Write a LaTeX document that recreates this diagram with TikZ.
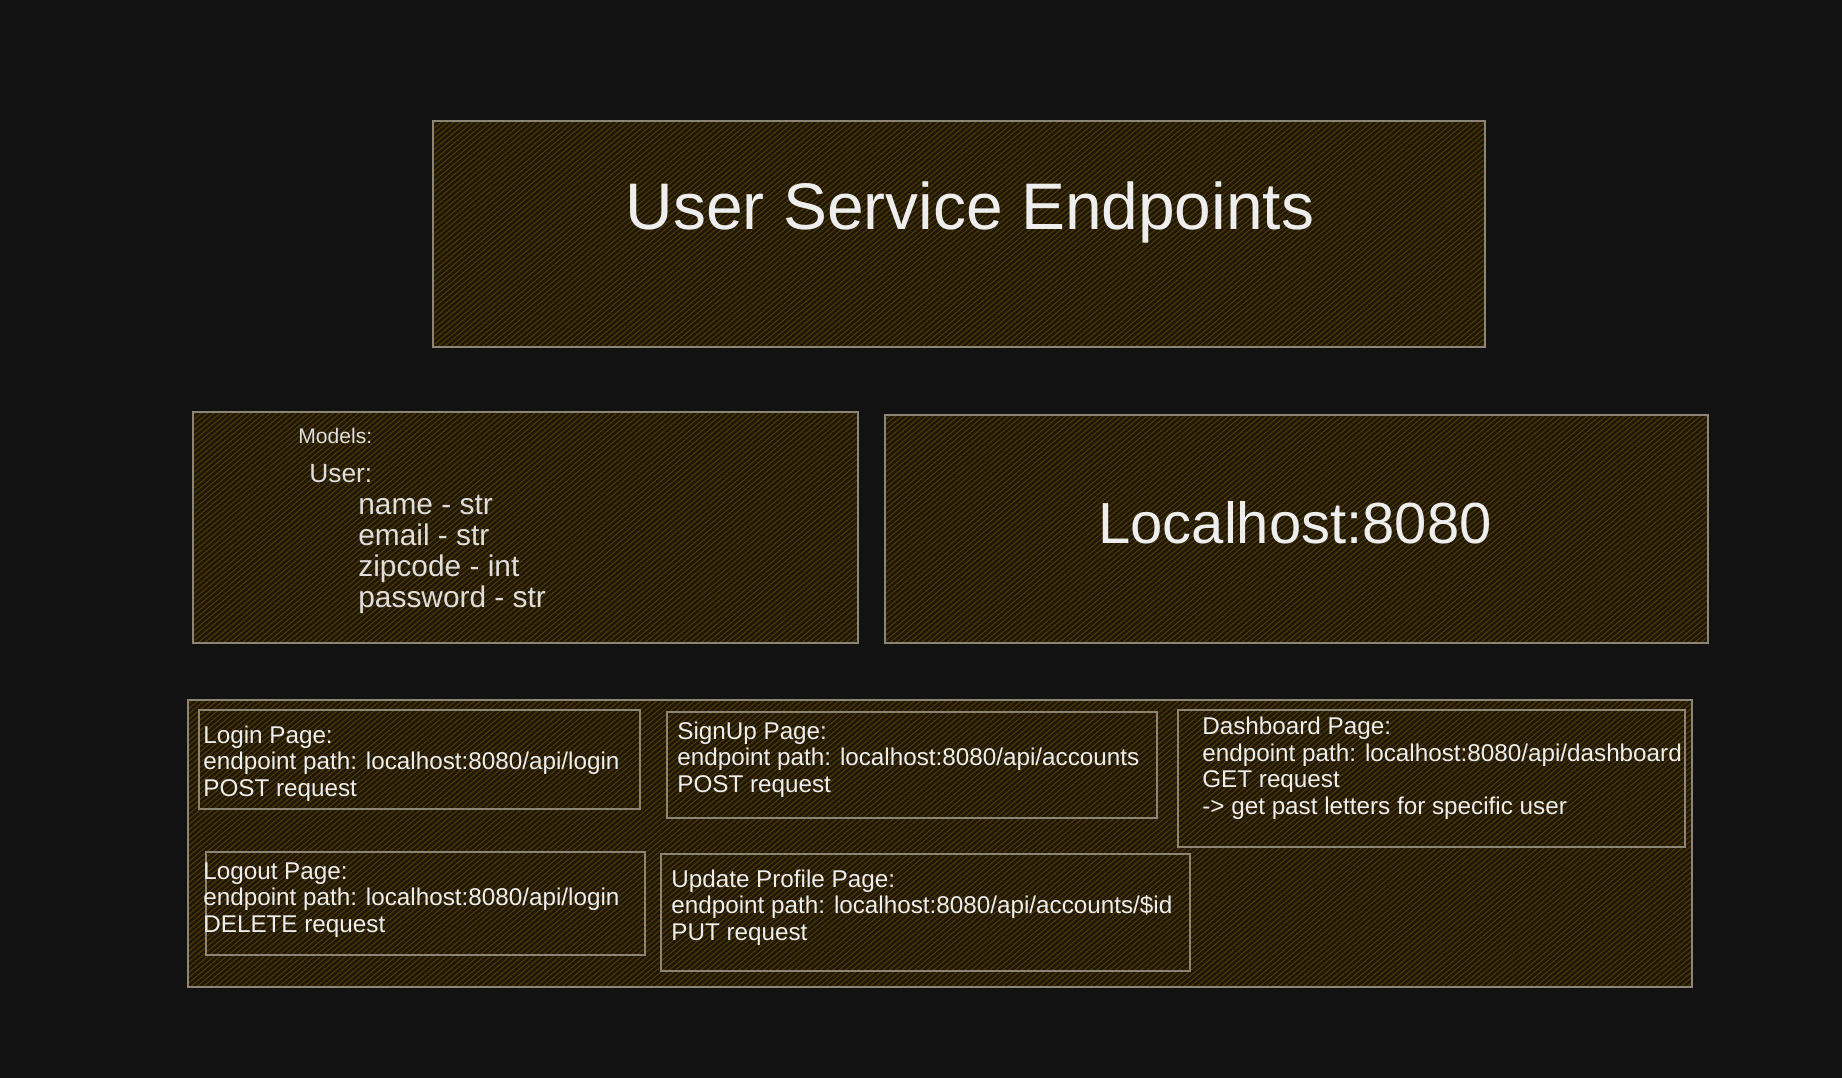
\documentclass[tikz,border=0pt]{standalone}
\usepackage{fontspec}
\setmainfont{Liberation Sans}
\usetikzlibrary{patterns.meta}

\definecolor{canvas}{HTML}{121212}
\definecolor{boxbg}{HTML}{1E1806}
\definecolor{hatch}{HTML}{54390A}
\definecolor{edge}{HTML}{8C8576}
\definecolor{ink}{HTML}{EEEEEE}

\begin{document}
\begin{tikzpicture}[
        x=0.02cm, y=-0.02cm,
        panel/.style={
            draw=edge,
            line width=1.1pt,
            preaction={fill=boxbg},
            pattern={Lines[angle=40,distance=2.3pt,line width=0.6pt]},
            pattern color=hatch
        },
        pagebox/.style={draw=edge, line width=0.9pt},
        page/.style={
            anchor=base west,
            inner sep=0pt,
            align=left,
            text=ink,
            font=\fontsize{13.8}{15}\selectfont
        },
        field/.style={
            anchor=base west,
            inner sep=0pt,
            text=ink!85!edge,
            font=\fontsize{17}{18}\selectfont
        }
    ]

    % canvas
    \fill[canvas] (0,0) rectangle (1842,1078);
    \useasboundingbox (0,0) rectangle (1842,1078);

    % title
    \draw[panel] (433,121) rectangle (1485,347);
    \node[anchor=base, text=ink, font=\fontsize{37.5}{40}\selectfont] (titel) at (970,229) {User Service Endpoints};

    % models
    \draw[panel] (193,412) rectangle (858,643);
    \node[field, font=\fontsize{12}{14}\selectfont] (models) at (298,443) {Models:};
    \node[field, font=\fontsize{15}{16}\selectfont] (user) at (309,482) {User:};
    \node[field] (fname) at (358,514) {name - str};
    \node[field] (femail) at (358,545) {email - str};
    \node[field] (fzip) at (358,576) {zipcode - int};
    \node[field] (fpass) at (358,607) {password - str};

    % host
    \draw[panel] (885,415) rectangle (1708,643);
    \node[anchor=base, text=ink, font=\fontsize{33}{36}\selectfont] (host) at (1295,543) {Localhost:8080};

    % pages (base = last line)
    \draw[panel] (188,700) rectangle (1692,987);

    \draw[pagebox] (199,710) rectangle (640,809);
    \node[page] (login) at (203,796) {Login Page:\\endpoint path: localhost:8080/api/login\\POST request};

    \draw[pagebox] (667,712) rectangle (1157,818);
    \node[page] (signup) at (677,792) {SignUp Page:\\endpoint path: localhost:8080/api/accounts\\POST request};

    \draw[pagebox] (1178,710) rectangle (1685,847);
    \node[page] (dashboard) at (1202,814) {Dashboard Page:\\endpoint path: localhost:8080/api/dashboard\\GET request\\-> get past letters for specific user};

    \draw[pagebox] (206,852) rectangle (645,955);
    \node[page] (logout) at (203,932) {Logout Page:\\endpoint path: localhost:8080/api/login\\DELETE request};

    \draw[pagebox] (661,854) rectangle (1190,971);
    \node[page] (update) at (671,940) {Update Profile Page:\\endpoint path: localhost:8080/api/accounts/\$id\\PUT request};

\end{tikzpicture}
\end{document}
